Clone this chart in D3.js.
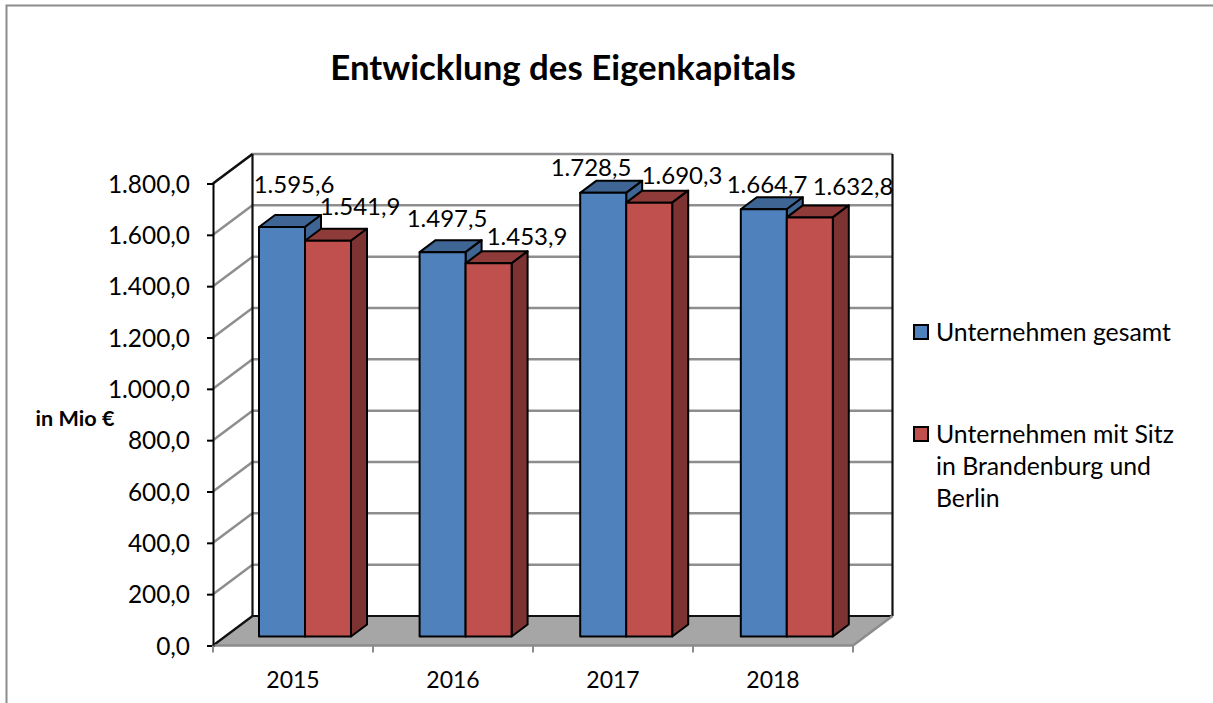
<!DOCTYPE html>
<html>
<head>
<meta charset="utf-8">
<script src="https://cdn.jsdelivr.net/npm/d3@7"></script>
<style>
  html, body { margin: 0; padding: 0; background: white; overflow: hidden; }
  text { font-family: Lato, sans-serif; fill: #000; }
</style>
</head>
<body>
<script>
const years = ["2015", "2016", "2017", "2018"];
const gesamt = [1595.6, 1497.5, 1728.5, 1664.7];
const mitSitz = [1541.9, 1453.9, 1690.3, 1632.8];
const yTicks = [0, 200, 400, 600, 800, 1000, 1200, 1400, 1600, 1800];

// the labels were dragged around by hand in the original, so each one has its own nudge
const gesamtNudge = [[12, -34], [5, -25], [-11, -17], [5, -16]];
const mitSitzNudge = [[32, -26], [39, -18], [34, -19], [45, -22]];

const width = 1213, height = 703;
const fmt = d3.format(".1f");
const de = function (v) {
   // 1.595,6 style
   const p = fmt(v).split(".");
   return p[0].replace(/\B(?=(\d{3})+$)/g, ".") + "," + p[1];
};

const svg = d3.select("body").append("svg")
   .attr("width", width)
   .attr("height", height);

// outer frame runs off the right and bottom of the picture
svg.append("rect")
   .attr("x", 6.5).attr("y", 5.5)
   .attr("width", 1400).attr("height", 900)
   .style("fill", "white")
   .style("stroke", "#8c8c8c")
   .style("stroke-width", 2);

svg.append("text")
   .attr("x", 563).attr("y", 80)
   .attr("text-anchor", "middle")
   .style("font-size", "34.8px")
   .style("font-weight", "bold")
   .text("Entwicklung des Eigenkapitals");

const left = 213, right = 853, floorY = 645.5, topY = 183.5;
const wallDx = 39.5, wallDy = -29.5;   // depth of the chart box
const barDx = 16, barDy = -12;         // depth of a bar
const barLift = 9;                     // bars stand inside the floor

const x = d3.scaleBand().domain(years).range([left, right]);
// the bars drift a little against the axis ticks in the original
const xBars = d3.scaleBand().domain(years).range([left, left + 4 * 160.6]);
const x1 = d3.scaleBand().domain([0, 1]).range([46, 138]);
const y = d3.scaleLinear().domain([0, 1800]).range([floorY, topY]);

// floor
svg.append("polygon")
   .attr("points", [
      [left, floorY], [right, floorY],
      [right + wallDx, floorY + wallDy], [left + wallDx, floorY + wallDy]
   ].join(" "))
   .style("fill", "#a6a6a6");

// gridlines, back wall and side wall
const grid = svg.append("g").style("fill", "none").style("stroke", "#8e8e8e").style("stroke-width", 2.5);
grid.selectAll("polyline")
   .data(yTicks.slice(1))
   .enter()
   .append("polyline")
   .attr("points", function (d) {
      return [[left, y(d)], [left + wallDx, y(d) + wallDy], [right + wallDx, y(d) + wallDy]].join(" ");
   });

// wall edges
const edges = [
   [[left + wallDx, floorY + wallDy], [left + wallDx, topY + wallDy]],
   [[right + wallDx, floorY + wallDy], [right + wallDx, topY + wallDy]],
   [[left + wallDx, floorY + wallDy], [right + wallDx, floorY + wallDy]],
   [[left, floorY], [left + wallDx, floorY + wallDy]],
   [[left, topY], [left + wallDx, topY + wallDy]]
];
svg.selectAll(".edge")
   .data(edges)
   .enter()
   .append("line")
   .attr("class", "edge")
   .attr("x1", function (d) { return d[0][0]; })
   .attr("y1", function (d) { return d[0][1]; })
   .attr("x2", function (d) { return d[1][0]; })
   .attr("y2", function (d) { return d[1][1]; })
   .style("stroke", "#111")
   .style("stroke-width", 2.2);

// front of the floor
svg.append("polyline")
   .attr("points", [[left, floorY], [right, floorY], [right + wallDx, floorY + wallDy]].join(" "))
   .style("fill", "none")
   .style("stroke", "#8c8c8c")
   .style("stroke-width", 2.5);

// y axis
const yAxis = svg.append("g")
   .attr("transform", "translate(" + left + ",0)")
   .call(d3.axisLeft(y).tickValues(yTicks).tickFormat(de).tickSize(6).tickPadding(17));
yAxis.select(".domain").style("stroke", "#000").style("stroke-width", 2);
yAxis.selectAll(".tick line").style("stroke", "#000").style("stroke-width", 2);
yAxis.selectAll("text").style("font-size", "24.4px").style("font-family", "Lato, sans-serif").attr("dy", "0.36em");

// x axis
const xAxis = svg.append("g")
   .attr("transform", "translate(0," + floorY + ")")
   .call(d3.axisBottom(x).tickSize(0).tickPadding(26));
xAxis.select(".domain").remove();
xAxis.selectAll("text").style("font-size", "23px").style("font-family", "Lato, sans-serif");
svg.selectAll(".xtick")
   .data(d3.range(years.length + 1))
   .enter()
   .append("line")
   .attr("class", "xtick")
   .attr("x1", function (i) { return left + i * x.bandwidth(); })
   .attr("x2", function (i) { return left + i * x.bandwidth(); })
   .attr("y1", floorY)
   .attr("y2", floorY + 7)
   .style("stroke", "#8c8c8c")
   .style("stroke-width", 2);

svg.append("text")
   .attr("x", 75).attr("y", 426)
   .attr("text-anchor", "middle")
   .style("font-size", "21.6px")
   .style("font-weight", "bold")
   .text("in Mio €");

// bars
const seriesList = [
   { values: gesamt, nudge: gesamtNudge, front: "#4f81bd", top: "#3e6593", side: "#3e6593" },
   { values: mitSitz, nudge: mitSitzNudge, front: "#c0504d", top: "#8f3b39", side: "#7d3331" }
];
const barW = x1.bandwidth();

years.forEach(function (year, i) {
   seriesList.forEach(function (s, j) {
      const x0 = xBars(year) + x1(j);
      const y0 = y(s.values[i]) - barLift;
      const y1 = y(0) - barLift;
      const g = svg.append("g")
         .style("stroke", "#000")
         .style("stroke-width", 2)
         .style("stroke-linejoin", "round");
      g.append("polygon")
         .attr("points", [[x0, y0], [x0 + barDx, y0 + barDy], [x0 + barW + barDx, y0 + barDy], [x0 + barW, y0]].join(" "))
         .style("fill", s.top);
      g.append("polygon")
         .attr("points", [[x0 + barW, y0], [x0 + barW + barDx, y0 + barDy], [x0 + barW + barDx, y1 + barDy], [x0 + barW, y1]].join(" "))
         .style("fill", s.side);
      g.append("rect")
         .attr("x", x0).attr("y", y0)
         .attr("width", barW).attr("height", y1 - y0)
         .style("fill", s.front);
   });
});

// value labels go on top of every bar
seriesList.forEach(function (s, j) {
   svg.selectAll(".val" + j)
      .data(s.values)
      .enter()
      .append("text")
      .attr("class", "val" + j)
      .attr("text-anchor", "middle")
      .attr("x", function (d, i) { return x(years[i]) + x1(j) + barW / 2 + s.nudge[i][0]; })
      .attr("y", function (d, i) { return y(d) - barLift + s.nudge[i][1]; })
      .style("font-size", "24px")
      .text(de);
});

// legend
const legendItems = [
   { color: "#4f81bd", y: 325, lines: ["Unternehmen gesamt"] },
   { color: "#c0504d", y: 427, lines: ["Unternehmen mit Sitz", "in Brandenburg und", "Berlin"] }
];
legendItems.forEach(function (item) {
   svg.append("rect")
      .attr("x", 914).attr("y", item.y)
      .attr("width", 14).attr("height", 14)
      .style("fill", item.color)
      .style("stroke", "#000")
      .style("stroke-width", 2);
   item.lines.forEach(function (line, k) {
      svg.append("text")
         .attr("x", 936)
         .attr("y", item.y + 16 + k * 32)
         .style("font-size", "24.8px")
         .text(line);
   });
});
</script>
</body>
</html>
